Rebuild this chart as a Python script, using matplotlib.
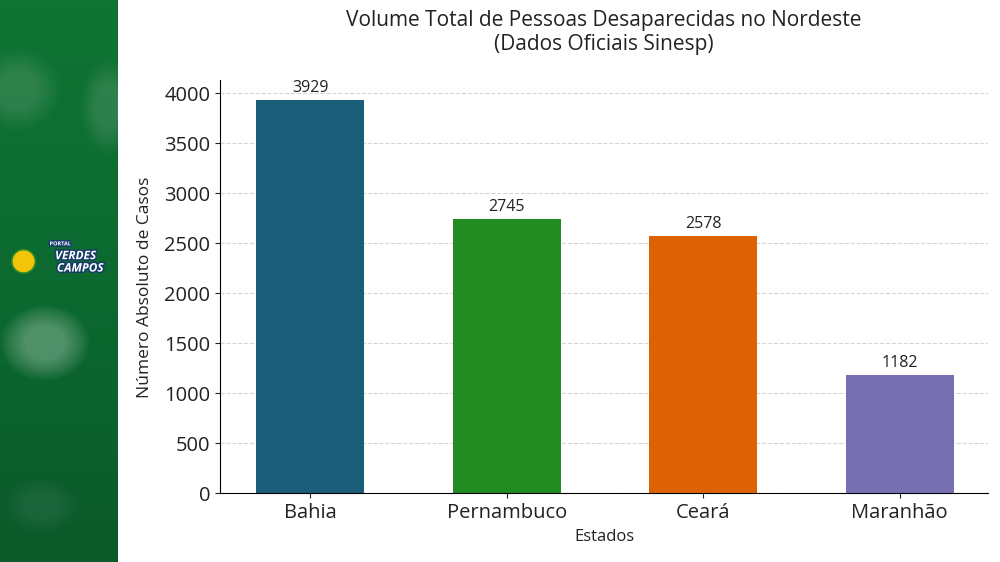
import matplotlib
matplotlib.use("Agg")
import matplotlib.pyplot as plt
import matplotlib.patheffects as pe
import numpy as np
from matplotlib.patches import Ellipse
from matplotlib.colors import LinearSegmentedColormap

estados = ["Bahia", "Pernambuco", "Ceará", "Maranhão"]
casos = [3929, 2745, 2578, 1182]
cores = ["#1b5e7a", "#228b22", "#dc6204", "#7670b2"]

plt.rcParams['font.family'] = ['Open Sans', 'DejaVu Sans']

fig = plt.figure(figsize=(10, 5.62), dpi=100)

# green sidebar
side = fig.add_axes([0, 0, 0.118, 1])
grad = np.linspace(0, 1, 100)[:, None] * np.ones((1, 10))
gcm = LinearSegmentedColormap.from_list("g", ["#0b5a2a", "#0c6a30", "#0f7434"])
side.imshow(grad, cmap=gcm, origin="lower", aspect="auto", extent=[0, 1, 0, 1])
for (cx, cy, w, h, a) in [(0.15, 0.84, 0.6, 0.12, 0.10), (0.92, 0.81, 0.4, 0.14, 0.10),
                          (0.38, 0.39, 0.62, 0.11, 0.22), (0.35, 0.1, 0.5, 0.08, 0.06)]:
    for k in range(8):
        side.add_patch(Ellipse((cx, cy), w * (1.2 - k * 0.09), h * (1.2 - k * 0.09),
                               color="white", alpha=a / 5, lw=0))
side.add_patch(Ellipse((0.2, 0.535), 0.2, 0.042, facecolor="#f2c40a",
                       edgecolor="#2a8a2a", lw=1.2))
eff = [pe.withStroke(linewidth=2.2, foreground="#163a6a")]
side.text(0.42, 0.566, "PORTAL", color="white", fontsize=4, fontweight="bold",
          ha="left", va="center", path_effects=eff)
side.text(0.64, 0.545, "VERDES", color="white", fontsize=8.5, fontweight="bold",
          fontstyle="italic", ha="center", va="center", path_effects=eff)
side.text(0.68, 0.523, "CAMPOS", color="white", fontsize=8.5, fontweight="bold",
          fontstyle="italic", ha="center", va="center", path_effects=eff)
side.set_xlim(0, 1)
side.set_ylim(0, 1)
side.axis("off")

ax = fig.add_axes([0.22, 0.122, 0.768, 0.735])
x = np.arange(len(estados))
ax.bar(x, casos, width=0.55, color=cores, zorder=2)
for xi, v in zip(x, casos):
    ax.text(xi, v + 40, str(v), ha="center", va="bottom", fontsize=11.5, color="#222222")

ax.set_xticks(x)
ax.set_xticklabels(estados, fontsize=14.5)
ax.set_xlim(-0.46, 3.45)
ax.set_ylim(0, 4130)
ax.set_yticks(range(0, 4001, 500))
ax.tick_params(axis="y", labelsize=14.5)
ax.tick_params(colors="#222222")
ax.yaxis.grid(True, linestyle="--", color="#cccccc", alpha=0.8, zorder=0)
ax.set_axisbelow(True)
ax.spines["top"].set_visible(False)
ax.spines["right"].set_visible(False)
ax.set_xlabel("Estados", fontsize=12, color="#222222", labelpad=4)
ax.set_ylabel("Número Absoluto de Casos", fontsize=12.5, color="#222222", labelpad=8)
ax.set_title("Volume Total de Pessoas Desaparecidas no Nordeste\n(Dados Oficiais Sinesp)",
             fontsize=15, color="#222222", pad=22)

fig.savefig("out.png", dpi=100)
